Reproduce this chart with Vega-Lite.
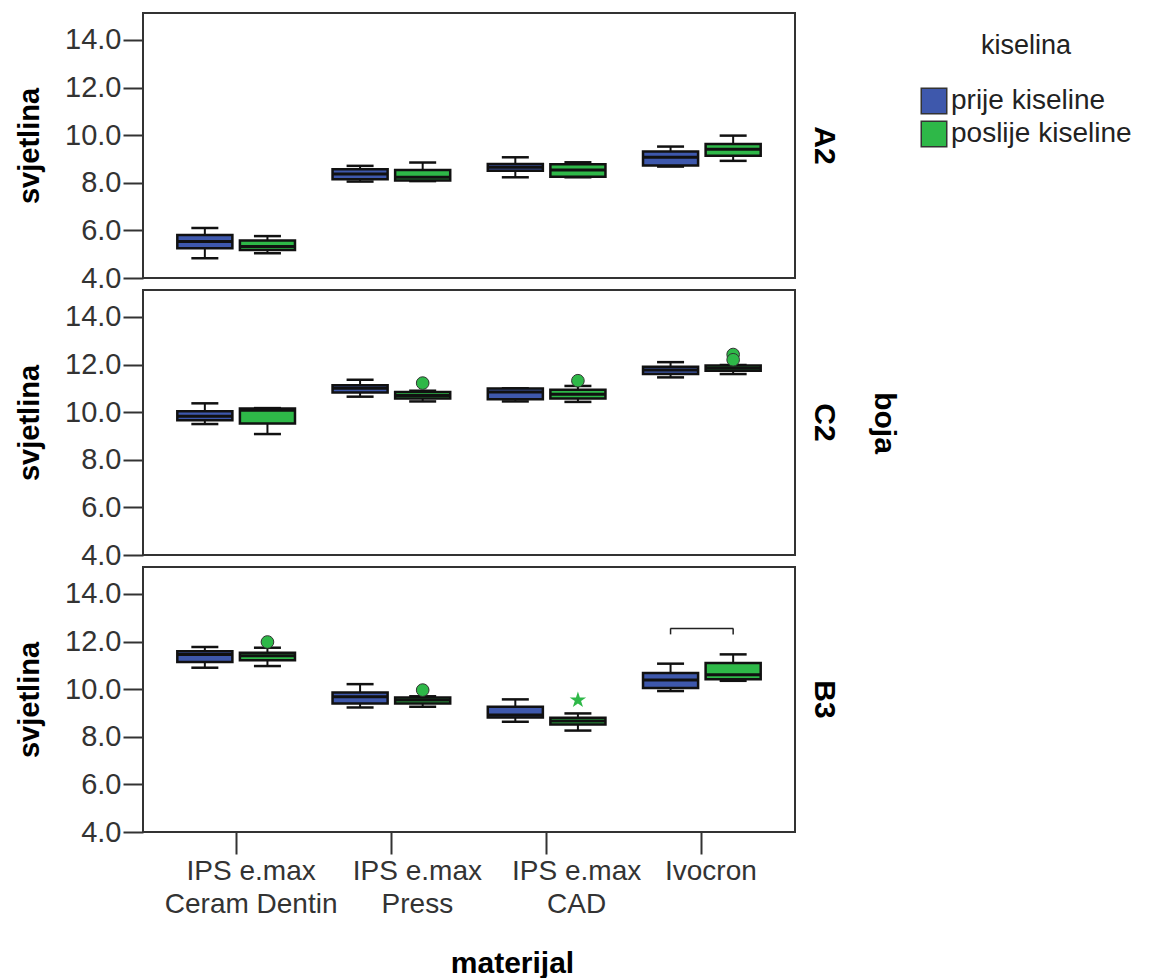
{
  "$schema": "https://vega.github.io/schema/vega-lite/v6.json",
  "background": "white",
  "padding": {"left": 15, "top": 12, "right": 0, "bottom": 0},
  "bounds": "flush",
  "data": {"values": [
    {"kind": "box", "boja": "A2", "materijal": "IPS e.max Ceram Dentin", "kiselina": "prije kiseline", "lo": 4.83, "q1": 5.25, "med": 5.53, "q3": 5.81, "hi": 6.1},
    {"kind": "box", "boja": "A2", "materijal": "IPS e.max Ceram Dentin", "kiselina": "poslije kiseline", "lo": 5.04, "q1": 5.18, "med": 5.32, "q3": 5.57, "hi": 5.76},
    {"kind": "box", "boja": "A2", "materijal": "IPS e.max Press", "kiselina": "prije kiseline", "lo": 8.05, "q1": 8.15, "med": 8.37, "q3": 8.57, "hi": 8.71},
    {"kind": "box", "boja": "A2", "materijal": "IPS e.max Press", "kiselina": "poslije kiseline", "lo": 8.07, "q1": 8.09, "med": 8.23, "q3": 8.54, "hi": 8.85},
    {"kind": "box", "boja": "A2", "materijal": "IPS e.max CAD", "kiselina": "prije kiseline", "lo": 8.23, "q1": 8.5, "med": 8.65, "q3": 8.79, "hi": 9.07},
    {"kind": "box", "boja": "A2", "materijal": "IPS e.max CAD", "kiselina": "poslije kiseline", "lo": 8.23, "q1": 8.25, "med": 8.54, "q3": 8.78, "hi": 8.86},
    {"kind": "box", "boja": "A2", "materijal": "Ivocron", "kiselina": "prije kiseline", "lo": 8.68, "q1": 8.72, "med": 9.07, "q3": 9.31, "hi": 9.52},
    {"kind": "box", "boja": "A2", "materijal": "Ivocron", "kiselina": "poslije kiseline", "lo": 8.92, "q1": 9.13, "med": 9.41, "q3": 9.63, "hi": 9.98},
    {"kind": "box", "boja": "C2", "materijal": "IPS e.max Ceram Dentin", "kiselina": "prije kiseline", "lo": 9.5, "q1": 9.66, "med": 9.83, "q3": 10.04, "hi": 10.37},
    {"kind": "box", "boja": "C2", "materijal": "IPS e.max Ceram Dentin", "kiselina": "poslije kiseline", "lo": 9.08, "q1": 9.52, "med": 10.08, "q3": 10.15, "hi": 10.17},
    {"kind": "box", "boja": "C2", "materijal": "IPS e.max Press", "kiselina": "prije kiseline", "lo": 10.65, "q1": 10.82, "med": 11.0, "q3": 11.13, "hi": 11.36},
    {"kind": "box", "boja": "C2", "materijal": "IPS e.max Press", "kiselina": "poslije kiseline", "lo": 10.45, "q1": 10.57, "med": 10.7, "q3": 10.85, "hi": 10.9},
    {"kind": "box", "boja": "C2", "materijal": "IPS e.max CAD", "kiselina": "prije kiseline", "lo": 10.45, "q1": 10.54, "med": 10.85, "q3": 10.99, "hi": 11.0},
    {"kind": "box", "boja": "C2", "materijal": "IPS e.max CAD", "kiselina": "poslije kiseline", "lo": 10.43, "q1": 10.57, "med": 10.75, "q3": 10.94, "hi": 11.1},
    {"kind": "box", "boja": "C2", "materijal": "Ivocron", "kiselina": "prije kiseline", "lo": 11.46, "q1": 11.6, "med": 11.77, "q3": 11.91, "hi": 12.1},
    {"kind": "box", "boja": "C2", "materijal": "Ivocron", "kiselina": "poslije kiseline", "lo": 11.6, "q1": 11.74, "med": 11.84, "q3": 11.96, "hi": 11.98},
    {"kind": "box", "boja": "B3", "materijal": "IPS e.max Ceram Dentin", "kiselina": "prije kiseline", "lo": 10.9, "q1": 11.14, "med": 11.45, "q3": 11.59, "hi": 11.77},
    {"kind": "box", "boja": "B3", "materijal": "IPS e.max Ceram Dentin", "kiselina": "poslije kiseline", "lo": 10.97, "q1": 11.21, "med": 11.4, "q3": 11.53, "hi": 11.74},
    {"kind": "box", "boja": "B3", "materijal": "IPS e.max Press", "kiselina": "prije kiseline", "lo": 9.23, "q1": 9.4, "med": 9.68, "q3": 9.86, "hi": 10.21},
    {"kind": "box", "boja": "B3", "materijal": "IPS e.max Press", "kiselina": "poslije kiseline", "lo": 9.26, "q1": 9.4, "med": 9.54, "q3": 9.65, "hi": 9.7},
    {"kind": "box", "boja": "B3", "materijal": "IPS e.max CAD", "kiselina": "prije kiseline", "lo": 8.63, "q1": 8.81, "med": 8.91, "q3": 9.26, "hi": 9.57},
    {"kind": "box", "boja": "B3", "materijal": "IPS e.max CAD", "kiselina": "poslije kiseline", "lo": 8.26, "q1": 8.52, "med": 8.66, "q3": 8.8, "hi": 8.98},
    {"kind": "box", "boja": "B3", "materijal": "Ivocron", "kiselina": "prije kiseline", "lo": 9.92, "q1": 10.05, "med": 10.38, "q3": 10.68, "hi": 11.07},
    {"kind": "box", "boja": "B3", "materijal": "Ivocron", "kiselina": "poslije kiseline", "lo": 10.35, "q1": 10.42, "med": 10.6, "q3": 11.1, "hi": 11.46},
    {"kind": "out", "tip": "o", "boja": "C2", "materijal": "IPS e.max Press", "kiselina": "poslije kiseline", "v": 11.22},
    {"kind": "out", "tip": "o", "boja": "C2", "materijal": "IPS e.max CAD", "kiselina": "poslije kiseline", "v": 11.32},
    {"kind": "out", "tip": "o", "boja": "C2", "materijal": "Ivocron", "kiselina": "poslije kiseline", "v": 12.42},
    {"kind": "out", "tip": "o", "boja": "C2", "materijal": "Ivocron", "kiselina": "poslije kiseline", "v": 12.2},
    {"kind": "out", "tip": "o", "boja": "B3", "materijal": "IPS e.max Ceram Dentin", "kiselina": "poslije kiseline", "v": 11.98},
    {"kind": "out", "tip": "o", "boja": "B3", "materijal": "IPS e.max Press", "kiselina": "poslije kiseline", "v": 9.96},
    {"kind": "out", "tip": "e", "boja": "B3", "materijal": "IPS e.max CAD", "kiselina": "poslije kiseline", "v": 9.54},
    {"kind": "br", "boja": "B3", "materijal": "Ivocron", "kiselina": "prije kiseline", "lo": 12.3, "hi": 12.55},
    {"kind": "br", "boja": "B3", "materijal": "Ivocron", "kiselina": "poslije kiseline", "lo": 12.3, "hi": 12.55}
  ]},
  "facet": {
    "row": {
      "field": "boja", "type": "nominal", "sort": ["A2", "C2", "B3"], "title": "boja",
      "header": {
        "labelFontSize": 30, "labelFontWeight": "bold", "labelAngle": 90, "labelOrient": "right", "labelPadding": 14, "labelColor": "black",
        "titleFontSize": 30, "titleFontWeight": "bold", "titleAngle": 90, "titleOrient": "right", "titlePadding": 20, "titleColor": "black"
      }
    }
  },
  "spacing": {"row": 12},
  "spec": {
    "width": 652,
    "height": 265,
    "layer": [
      {
        "transform": [{"filter": "datum.kind == 'box'"}],
        "mark": {"type": "rule", "color": "#111", "strokeWidth": 2},
        "encoding": {
          "x": {"field": "materijal", "type": "nominal", "sort": ["IPS e.max Ceram Dentin", "IPS e.max Press", "IPS e.max CAD", "Ivocron"], "title": "materijal",
            "scale": {"domain": ["IPS e.max Ceram Dentin", "IPS e.max Press", "IPS e.max CAD", "Ivocron"], "paddingInner": 0, "paddingOuter": 0.1},
            "axis": {
              "labelAngle": 0, "domain": false, "grid": false, "tickSize": 22, "tickWidth": 2, "tickColor": "#333",
              "labelFontSize": 28, "labelColor": "#333", "labelPadding": 3, "labelLineHeight": 33, "labelBaseline": "top",
              "labelOffset": {"condition": [{"test": "datum.value == 'IPS e.max Ceram Dentin'", "value": 15}, {"test": "datum.value == 'IPS e.max Press'", "value": 26}, {"test": "datum.value == 'IPS e.max CAD'", "value": 30}], "value": 9},
              "labelExpr": "indexof(datum.value, 'IPS e.max ') == 0 ? ['IPS e.max', substring(datum.value, 10)] : datum.value",
              "titleFontSize": 30, "titleFontWeight": "bold", "titleColor": "black", "titleX": 369, "titleY": 140, "titleBaseline": "alphabetic"
            }
          },
          "xOffset": {"field": "kiselina", "type": "nominal", "sort": ["prije kiseline", "poslije kiseline"], "scale": {"domain": ["prije kiseline", "poslije kiseline"], "paddingInner": 0.12, "paddingOuter": 0.3}},
          "y": {"field": "lo", "type": "quantitative", "title": "svjetlina",
            "scale": {"domain": [4, 15.13], "nice": false, "zero": false},
            "axis": {
              "values": [4, 6, 8, 10, 12, 14], "format": ".1f", "grid": false, "domain": false, "labelOverlap": false,
              "tickSize": 20, "tickWidth": 2, "tickColor": "#333", "labelFontSize": 29, "labelColor": "#333", "labelPadding": 2,
              "titleFontSize": 29, "titleFontWeight": "bold", "titleColor": "black", "titlePadding": 20
            }
          },
          "y2": {"field": "hi"}
        }
      },
      {
        "transform": [{"filter": "datum.kind == 'box'"}],
        "mark": {"type": "tick", "orient": "horizontal", "color": "#111", "size": 27, "thickness": 2.5, "opacity": 1},
        "encoding": {
          "x": {"field": "materijal", "type": "nominal", "sort": ["IPS e.max Ceram Dentin", "IPS e.max Press", "IPS e.max CAD", "Ivocron"], "title": "materijal"},
          "xOffset": {"field": "kiselina", "type": "nominal", "sort": ["prije kiseline", "poslije kiseline"]},
          "y": {"field": "lo", "type": "quantitative", "title": "svjetlina"}
        }
      },
      {
        "transform": [{"filter": "datum.kind == 'box'"}],
        "mark": {"type": "tick", "orient": "horizontal", "color": "#111", "size": 27, "thickness": 2.5, "opacity": 1},
        "encoding": {
          "x": {"field": "materijal", "type": "nominal", "sort": ["IPS e.max Ceram Dentin", "IPS e.max Press", "IPS e.max CAD", "Ivocron"], "title": "materijal"},
          "xOffset": {"field": "kiselina", "type": "nominal", "sort": ["prije kiseline", "poslije kiseline"]},
          "y": {"field": "hi", "type": "quantitative", "title": "svjetlina"}
        }
      },
      {
        "transform": [{"filter": "datum.kind == 'box'"}],
        "mark": {"type": "bar", "stroke": "#111", "strokeWidth": 2.5, "opacity": 1},
        "encoding": {
          "x": {"field": "materijal", "type": "nominal", "sort": ["IPS e.max Ceram Dentin", "IPS e.max Press", "IPS e.max CAD", "Ivocron"], "title": "materijal"},
          "xOffset": {"field": "kiselina", "type": "nominal", "sort": ["prije kiseline", "poslije kiseline"]},
          "y": {"field": "q1", "type": "quantitative", "title": "svjetlina"},
          "y2": {"field": "q3"},
          "color": {"field": "kiselina", "type": "nominal", "sort": ["prije kiseline", "poslije kiseline"],
            "scale": {"domain": ["prije kiseline", "poslije kiseline"], "range": ["#3E58AC", "#2EB848"]},
            "legend": {
              "title": "kiselina", "orient": "none", "legendX": 777, "legendY": 20,
              "titleFontSize": 27, "titleFontWeight": "normal", "titleColor": "#222", "titleAnchor": "middle", "titlePadding": 27,
              "labelFontSize": 28, "labelColor": "#222", "labelOffset": 3, "labelLimit": 400,
              "symbolType": "square", "symbolSize": 650, "symbolStrokeColor": "#333", "symbolStrokeWidth": 1.5, "symbolOpacity": 1, "rowPadding": 1
            }
          }
        }
      },
      {
        "transform": [{"filter": "datum.kind == 'box'"}],
        "mark": {"type": "tick", "orient": "horizontal", "color": "#111", "size": 55, "thickness": 3, "opacity": 1},
        "encoding": {
          "x": {"field": "materijal", "type": "nominal", "sort": ["IPS e.max Ceram Dentin", "IPS e.max Press", "IPS e.max CAD", "Ivocron"], "title": "materijal"},
          "xOffset": {"field": "kiselina", "type": "nominal", "sort": ["prije kiseline", "poslije kiseline"]},
          "y": {"field": "med", "type": "quantitative", "title": "svjetlina"}
        }
      },
      {
        "transform": [{"filter": "datum.kind == 'out' && datum.tip == 'o'"}],
        "mark": {"type": "point", "shape": "circle", "filled": true, "size": 160, "stroke": "#333", "strokeWidth": 1, "opacity": 1},
        "encoding": {
          "x": {"field": "materijal", "type": "nominal", "sort": ["IPS e.max Ceram Dentin", "IPS e.max Press", "IPS e.max CAD", "Ivocron"], "title": "materijal"},
          "xOffset": {"field": "kiselina", "type": "nominal", "sort": ["prije kiseline", "poslije kiseline"]},
          "y": {"field": "v", "type": "quantitative", "title": "svjetlina"},
          "color": {"field": "kiselina", "type": "nominal", "sort": ["prije kiseline", "poslije kiseline"]}
        }
      },
      {
        "transform": [{"filter": "datum.kind == 'out' && datum.tip == 'e'"}],
        "mark": {"type": "point", "shape": "M0,-1L0.224,-0.309L0.951,-0.309L0.363,0.118L0.588,0.809L0,0.382L-0.588,0.809L-0.363,0.118L-0.951,-0.309L-0.224,-0.309Z", "filled": true, "size": 300, "strokeWidth": 0, "opacity": 1},
        "encoding": {
          "x": {"field": "materijal", "type": "nominal", "sort": ["IPS e.max Ceram Dentin", "IPS e.max Press", "IPS e.max CAD", "Ivocron"], "title": "materijal"},
          "xOffset": {"field": "kiselina", "type": "nominal", "sort": ["prije kiseline", "poslije kiseline"]},
          "y": {"field": "v", "type": "quantitative", "title": "svjetlina"},
          "color": {"field": "kiselina", "type": "nominal", "sort": ["prije kiseline", "poslije kiseline"]}
        }
      },
      {
        "transform": [{"filter": "datum.kind == 'br'"}],
        "mark": {"type": "rule", "color": "#222", "strokeWidth": 1.5},
        "encoding": {
          "x": {"field": "materijal", "type": "nominal", "sort": ["IPS e.max Ceram Dentin", "IPS e.max Press", "IPS e.max CAD", "Ivocron"], "title": "materijal"},
          "xOffset": {"field": "kiselina", "type": "nominal", "sort": ["prije kiseline", "poslije kiseline"]},
          "y": {"field": "lo", "type": "quantitative", "title": "svjetlina"},
          "y2": {"field": "hi"}
        }
      },
      {
        "transform": [{"filter": "datum.kind == 'br' && datum.kiselina == 'prije kiseline'"}],
        "mark": {"type": "tick", "orient": "horizontal", "color": "#222", "size": 63, "thickness": 1.5, "opacity": 1},
        "encoding": {
          "x": {"field": "materijal", "type": "nominal", "sort": ["IPS e.max Ceram Dentin", "IPS e.max Press", "IPS e.max CAD", "Ivocron"], "title": "materijal"},
          "y": {"field": "hi", "type": "quantitative", "title": "svjetlina"}
        }
      }
    ]
  },
  "config": {
    "font": "Liberation Sans",
    "view": {"stroke": "#333", "strokeWidth": 2}
  }
}
